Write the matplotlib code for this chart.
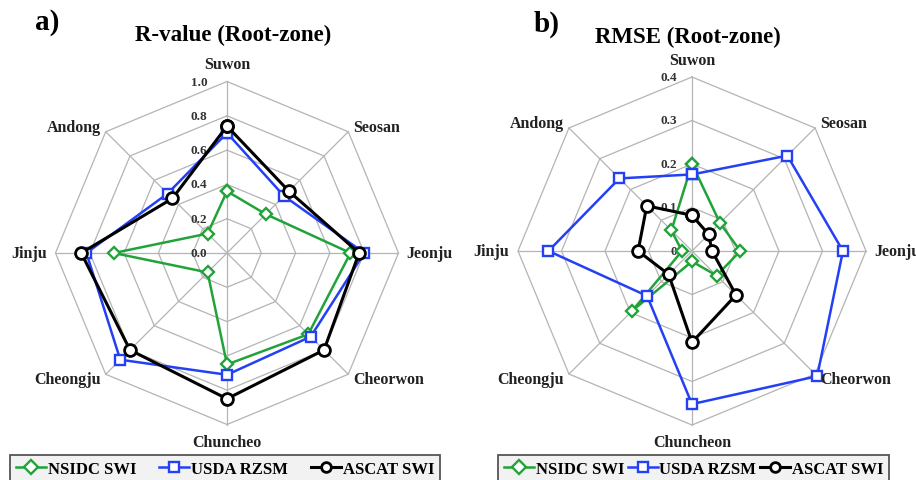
import numpy as np
import matplotlib.pyplot as plt

# estaciones (sentido horario desde arriba)
estaciones_r = ["Suwon", "Seosan", "Jeonju", "Cheorwon", "Chuncheo", "Cheongju", "Jinju", "Andong"]
estaciones_rmse = ["Suwon", "Seosan", "Jeonju", "Cheorwon", "Chuncheon", "Cheongju", "Jinju", "Andong"]

# R-value (Root-zone)
r_nsidc = [0.36, 0.32, 0.72, 0.67, 0.65, 0.16, 0.66, 0.16]
r_usda = [0.70, 0.47, 0.80, 0.69, 0.71, 0.88, 0.82, 0.49]
r_ascat = [0.74, 0.51, 0.77, 0.80, 0.85, 0.80, 0.85, 0.45]

# RMSE (Root-zone)
rmse_nsidc = [0.200, 0.091, 0.111, 0.080, 0.024, 0.195, 0.023, 0.067]
rmse_usda = [0.176, 0.310, 0.347, 0.407, 0.352, 0.146, 0.330, 0.236]
rmse_ascat = [0.082, 0.054, 0.046, 0.143, 0.210, 0.076, 0.124, 0.147]

ticks_r = [0.0, 0.2, 0.4, 0.6, 0.8, 1.0]
ticks_rmse = [0.0, 0.1, 0.2, 0.3, 0.4]
tick_lbl_r = ["0.0", "0.2", "0.4", "0.6", "0.8", "1.0"]
tick_lbl_rmse = ["0", "0.1", "0.2", "0.3", "0.4"]

series = ["NSIDC SWI", "USDA RZSM", "ASCAT SWI"]
colores = ["#22a33a", "#2340f5", "black"]
marcadores = ["D", "s", "o"]
tam = [6.0, 7.5, 8.5]

plt.rcParams['font.family'] = ['Liberation Serif', 'DejaVu Serif']
plt.rcParams['font.weight'] = 'bold'

W, H = 916, 481
fig = plt.figure(figsize=(W / 100, H / 100), dpi=100)

n = 8
ang = np.arange(n) * 2 * np.pi / n


def xy(vals, rmax):
    v = np.asarray(vals) / rmax
    return v * np.sin(ang), v * np.cos(ang)


def radar(cx, cy, R, nombres, datos, ticks, tick_lbl, tick_dx):
    # ejes con escala 1 unidad = R pixeles, centro en (cx, cy) desde arriba
    lim = 1.3
    ax = fig.add_axes([(cx - lim * R) / W, (H - cy - lim * R) / H,
                       2 * lim * R / W, 2 * lim * R / H])
    ax.set_xlim(-lim, lim)
    ax.set_ylim(-lim, lim)
    ax.axis('off')
    rmax = ticks[-1]

    # rejilla octogonal
    for t in ticks[1:]:
        gx, gy = xy([t] * n, rmax)
        ax.plot(np.append(gx, gx[0]), np.append(gy, gy[0]),
                color='#b4b4b4', lw=0.9, zorder=1)
    for a in ang:
        ax.plot([0, np.sin(a)], [0, np.cos(a)], color='#b4b4b4', lw=0.9, zorder=1)

    # etiquetas de escala
    for t, s in zip(ticks, tick_lbl):
        ax.text(tick_dx, t / rmax, s, ha='right', va='center', fontsize=9.5,
                color='#333333', zorder=2)

    # series
    lineas = []
    for vals, c, m, ms in zip(datos, colores, marcadores, tam):
        px, py = xy(vals, rmax)
        lw = 2.2 if c == 'black' else 1.8
        ln, = ax.plot(np.append(px, px[0]), np.append(py, py[0]), color=c, lw=lw,
                      marker=m, markersize=ms, markerfacecolor='white',
                      markeredgecolor=c, markeredgewidth=1.7 if c != 'black' else 2.0,
                      clip_on=False, zorder=3)
        lineas.append(ln)

    # nombres de estaciones
    d = 0.735
    pos = [(0, 1.10, 'center'), (d, d, 'left'), (1.045, 0, 'left'), (d, -d, 'left'),
           (0, -1.10, 'center'), (-d, -d, 'right'), (-1.05, 0, 'right'), (-d, d, 'right')]
    for nom, (tx, ty, ha) in zip(nombres, pos):
        ax.text(tx, ty, nom, ha=ha, va='center', fontsize=11.5, color='#222222')
    return lineas


lin = radar(227, 254, 171.5, estaciones_r, [r_nsidc, r_usda, r_ascat],
            ticks_r, tick_lbl_r, -0.115)
radar(692, 252, 174, estaciones_rmse, [rmse_nsidc, rmse_usda, rmse_ascat],
      ticks_rmse, tick_lbl_rmse, -0.085)

# letras y titulos
fig.text(35 / W, 1 - 22 / H, "a)", fontsize=21, ha='left', va='center')
fig.text(534 / W, 1 - 24 / H, "b)", fontsize=21, ha='left', va='center')
fig.text(233 / W, 1 - 35 / H, "R-value (Root-zone)", fontsize=16.5, ha='center', va='center')
fig.text(688 / W, 1 - 37 / H, "RMSE (Root-zone)", fontsize=16.5, ha='center', va='center')

# leyendas
for x0, x1 in [(10, 440), (498, 889)]:
    leg = fig.legend(lin, series, loc='upper left',
                     bbox_to_anchor=(x0 / W, 1 - 456 / H, (x1 - x0) / W, 0),
                     mode='expand', ncol=3, fontsize=12, handlelength=1.8,
                     handletextpad=0.1, borderaxespad=0, borderpad=0.35,
                     fancybox=False, framealpha=1)
    leg.get_frame().set_edgecolor('#555555')
    leg.get_frame().set_facecolor('#f2f2f2')
    leg.get_frame().set_linewidth(1.3)
    for h in leg.legend_handles:
        h.set_markersize(7)

fig.savefig("out.png", dpi=100)
